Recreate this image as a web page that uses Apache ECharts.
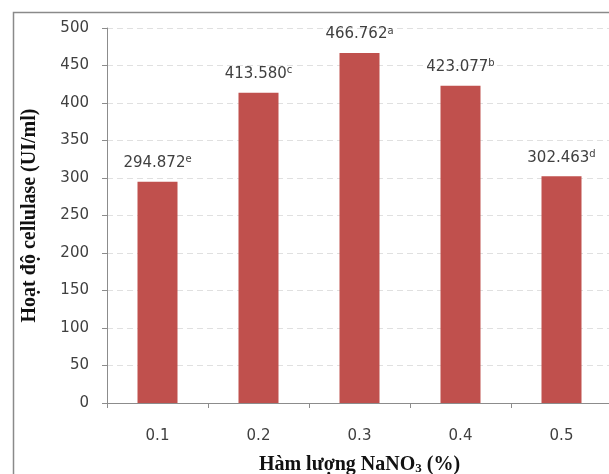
<!DOCTYPE html>
<html><head><meta charset="utf-8">
<script src="https://cdn.jsdelivr.net/npm/echarts@6/dist/echarts.min.js"></script>
<style>html,body{margin:0;padding:0;background:#fff}#c{width:609px;height:474px}</style>
</head><body><div id="c"></div>
<script>
const categories = ['0.1', '0.2', '0.3', '0.4', '0.5'];
const values = [294.872, 413.580, 466.762, 423.077, 302.463];
const letters = ['e', 'c', 'a', 'b', 'd'];
const yTicks = [0, 50, 100, 150, 200, 250, 300, 350, 400, 450, 500];

const chart = echarts.init(document.getElementById('c'));
const tickFont = 'DejaVu Sans, sans-serif';
chart.setOption({
  animation: false,
  backgroundColor: '#fff',
  graphic: [{
    type: 'rect', left: 11, top: 10, z: -1,
    shape: { width: 720, height: 600 },
    style: { fill: 'none', stroke: '#8a8a8a', lineWidth: 1.5 }
  }],
  grid: { left: 107, right: -3, top: 28, bottom: 71, outerBoundsMode: 'none' },
  xAxis: {
    type: 'category', data: categories,
    axisLine: { lineStyle: { color: '#8c8c8c' } },
    axisTick: { show: true, alignWithLabel: false, length: 5, lineStyle: { color: '#8c8c8c' } },
    axisLabel: { margin: 26, fontSize: 15, color: '#404040', fontFamily: tickFont },
    name: '{t|Hàm lượng NaNO}{s|3}{t| (%)}',
    nameLocation: 'middle', nameGap: 51,
    nameTextStyle: {
      rich: {
        t: { fontFamily: 'Liberation Serif, serif', fontWeight: 'bold', fontSize: 20, color: '#111' },
        s: { fontFamily: 'Liberation Serif, serif', fontWeight: 'bold', fontSize: 13, color: '#111', verticalAlign: 'bottom', padding: [8, 0, 0, 0] }
      }
    }
  },
  yAxis: {
    type: 'value', min: 0, max: 500, interval: 50,
    axisLine: { show: true, lineStyle: { color: '#8c8c8c' } },
    axisTick: { show: true, length: 5, lineStyle: { color: '#8c8c8c' } },
    axisLabel: { margin: 18, fontSize: 15, color: '#404040', fontFamily: tickFont,
      formatter: v => yTicks.includes(v) ? String(v) : '' },
    splitLine: { lineStyle: { color: '#e0e0e0', type: [6, 4] } },
    name: 'Hoạt độ cellulase (UI/ml)',
    nameLocation: 'middle', nameGap: 67,
    nameTextStyle: { fontFamily: 'Liberation Serif, serif', fontWeight: 'bold', fontSize: 20, color: '#111' }
  },
  series: [{
    type: 'bar', data: values, barWidth: 40,
    itemStyle: { color: '#c0504d' },
    label: {
      show: true, position: 'top', distance: 10,
      formatter: p => '{v|' + values[p.dataIndex].toFixed(3) + '}{s|' + letters[p.dataIndex] + '}',
      rich: {
        v: { fontSize: 15, color: '#404040', fontFamily: tickFont },
        s: { fontSize: 10, color: '#404040', fontFamily: tickFont, verticalAlign: 'top', padding: [0, 0, 7, 0] }
      }
    }
  }]
});
</script></body></html>
